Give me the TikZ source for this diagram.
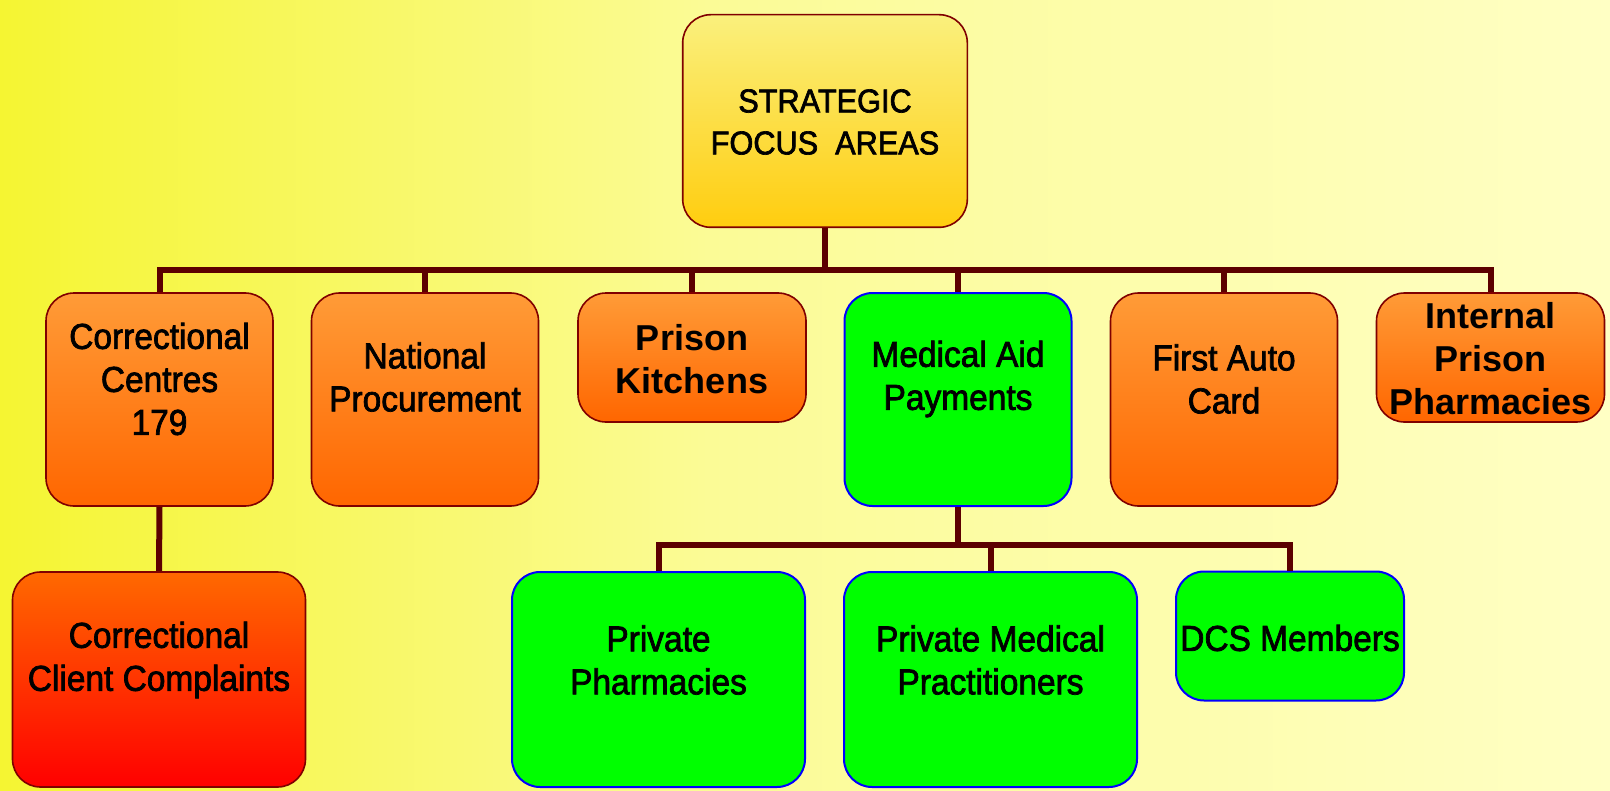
\documentclass[tikz,border=0pt]{standalone}
\usepackage{fontspec}
\setmainfont{Liberation Sans}
\newfontfamily\narrowfont[FakeStretch=0.93,FakeBold=2]{Liberation Sans}
\definecolor{bgL}{RGB}{245,245,50}
\definecolor{bgM}{RGB}{251,251,150}
\definecolor{bgR}{RGB}{255,255,196}
\definecolor{lineC}{RGB}{92,0,0}
\definecolor{bord}{RGB}{128,0,0}
\definecolor{orT}{RGB}{255,155,55}
\definecolor{orB}{RGB}{255,102,0}
\definecolor{stT}{RGB}{250,240,125}
\definecolor{stB}{RGB}{255,205,15}
\definecolor{rdT}{RGB}{255,105,0}
\definecolor{rdB}{RGB}{255,0,0}
\definecolor{grn}{RGB}{0,255,0}
\pgfdeclarehorizontalshading{bgshade}{100bp}{color(0bp)=(bgL); color(25bp)=(bgL); color(47bp)=(bgM); color(75bp)=(bgR); color(100bp)=(bgR)}
\begin{document}
\begin{tikzpicture}[x=0.5pt,y=-0.5pt,
  box/.style={rounded corners=14pt, line width=0.8pt, inner sep=0pt},
  orangebox/.style={box, draw=bord, top color=orT, bottom color=orB},
  greenbox/.style={box, draw=blue, line width=1pt, fill=grn},
  tallbox/.style={minimum width=113.5pt, minimum height=106.5pt},
  shortbox/.style={minimum width=114pt, minimum height=64.5pt},
  widebox/.style={minimum width=146.5pt, minimum height=107.5pt},
  lbl/.style={font=\narrowfont\fontsize{18}{21.5}\selectfont, align=center, inner sep=0pt},
  toplbl/.style={font=\narrowfont\fontsize{16.5}{21}\selectfont, align=center, inner sep=0pt},
  blbl/.style={font=\bfseries\fontsize{18}{21.5}\selectfont, align=center, inner sep=0pt},
  conn/.style={draw=lineC, line width=3pt}
]
\useasboundingbox (0,0) rectangle (1610,791);
\fill[shading=bgshade] (0,0) rectangle (1610,791);

% boxes
\node[orangebox, minimum width=142.3pt, minimum height=106.3pt, top color=stT, bottom color=stB] (top) at (825,121) {};
\node[orangebox, tallbox] (cc) at (159.5,399.5) {};
\node[orangebox, tallbox] (np) at (425,399.5) {};
\node[orangebox, shortbox] (pk) at (692,357.5) {};
\node[greenbox, tallbox] (ma) at (958,399.5) {};
\node[orangebox, tallbox] (fa) at (1224,399.5) {};
\node[orangebox, shortbox] (ip) at (1490.5,357.5) {};
\node[orangebox, widebox, top color=rdT, bottom color=rdB] (ccc) at (159,679.5) {};
\node[greenbox, widebox] (pp) at (658.5,679.5) {};
\node[greenbox, widebox] (pmp) at (990.5,679.5) {};
\node[greenbox, shortbox] (dcs) at (1290,636) {};

% labels
\node[toplbl] (topL) at (825,122) {STRATEGIC\\FOCUS\ \ AREAS};
\node[lbl] (ccL) at (159.5,379) {Correctional\\Centres\\179};
\node[lbl] (npL) at (425,377) {National\\Procurement};
\node[blbl] (pkL) at (692,359) {Prison\\Kitchens};
\node[lbl] (maL) at (958,379) {Medical Aid\\Payments};
\node[lbl] (faL) at (1224,379) {First Auto\\Card};
\node[blbl] (ipL) at (1490.5,359) {Internal\\Prison\\Pharmacies};
\node[lbl] (cccL) at (159,660) {Correctional\\Client Complaints};
\node[lbl] (ppL) at (658.5,660) {Private\\Pharmacies};
\node[lbl] (pmpL) at (990.5,660) {Private Medical\\Practitioners};
\node[lbl] (dcsL) at (1290,638) {DCS Members};

% connectors
\coordinate (bus) at (825,270);
\draw[conn] (top.south) -- (bus);
\foreach \n in {cc,np,pk,ma,fa,ip} \draw[conn] (\n.north) |- (bus);
\coordinate (mbus) at (958,545);
\draw[conn] (ma.south) -- (mbus);
\foreach \n in {pp,pmp,dcs} \draw[conn] (\n.north) |- (mbus);
\draw[conn] (cc.south) -- (ccc.north);
\end{tikzpicture}
\end{document}
